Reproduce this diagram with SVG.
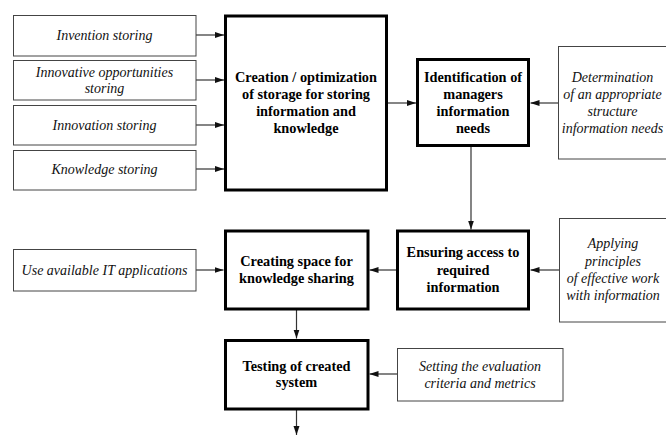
<svg xmlns="http://www.w3.org/2000/svg" width="666" height="435" viewBox="0 0 666 435">
<defs>
<marker id="ah" markerUnits="userSpaceOnUse" markerWidth="9" markerHeight="7" refX="9" refY="3" orient="auto">
<path d="M0,0 L9,3 L0,6 z" fill="#111"/>
</marker>
<style>
.thin{fill:#fff;stroke:#444;stroke-width:1}
.thick{fill:#fff;stroke:#000;stroke-width:3}
.it{font-family:"Liberation Serif","Times New Roman",serif;font-style:italic;font-size:14px;fill:#111;text-anchor:middle}
.bd{font-family:"Liberation Serif","Times New Roman",serif;font-weight:bold;font-size:14.3px;fill:#000;text-anchor:middle}
.con{stroke:#333;stroke-width:1.2;fill:none;marker-end:url(#ah)}
</style>
</defs>
<rect width="666" height="435" fill="#fff"/>
<g id="connectors">
<line class="con" x1="196" y1="35" x2="224" y2="35"/>
<line class="con" x1="196" y1="80" x2="224" y2="80"/>
<line class="con" x1="196" y1="125" x2="224" y2="125"/>
<line class="con" x1="196" y1="169" x2="224" y2="169"/>
<line class="con" x1="387" y1="103" x2="416" y2="103"/>
<line class="con" x1="558" y1="103" x2="530.5" y2="103"/>
<line class="con" x1="471" y1="146" x2="471" y2="229.5"/>
<line class="con" x1="559" y1="270" x2="530.5" y2="270"/>
<line class="con" x1="397" y1="270" x2="369.5" y2="270"/>
<line class="con" x1="196" y1="270" x2="223.5" y2="270"/>
<line class="con" x1="296.5" y1="309" x2="296.5" y2="338.5"/>
<line class="con" x1="397" y1="374" x2="369.5" y2="374"/>
<line class="con" x1="296.5" y1="409" x2="296.5" y2="435"/>
</g>
<g id="invention">
<rect class="thin" x="13.5" y="15.5" width="182.5" height="40.5"/>
<text class="it" x="104.5" y="40">Invention storing</text>
</g>
<g id="opportunities">
<rect class="thin" x="13.5" y="60.5" width="182.5" height="39.5"/>
<text class="it" x="104.5" y="77">Innovative opportunities</text>
<text class="it" x="104.5" y="93">storing</text>
</g>
<g id="innovation">
<rect class="thin" x="13.5" y="105.5" width="182.5" height="39.5"/>
<text class="it" x="104.5" y="130">Innovation storing</text>
</g>
<g id="knowledge">
<rect class="thin" x="13.5" y="150.5" width="182.5" height="39.5"/>
<text class="it" x="104.5" y="174">Knowledge storing</text>
</g>
<g id="creation">
<rect class="thick" x="225.5" y="16" width="161" height="174"/>
<text class="bd" x="306" y="82">Creation / optimization</text>
<text class="bd" x="306" y="99">of storage for storing</text>
<text class="bd" x="306" y="116">information and</text>
<text class="bd" x="306" y="133">knowledge</text>
</g>
<g id="identification">
<rect class="thick" x="417.5" y="59.5" width="111" height="86"/>
<text class="bd" x="473" y="82">Identification of</text>
<text class="bd" x="473" y="99">managers</text>
<text class="bd" x="473" y="116">information</text>
<text class="bd" x="473" y="133">needs</text>
</g>
<g id="determination">
<rect class="thin" x="558.5" y="46.5" width="120" height="112.5"/>
<text class="it" x="612.5" y="82">Determination</text>
<text class="it" x="612.5" y="99">of an appropriate</text>
<text class="it" x="612.5" y="116">structure</text>
<text class="it" x="612.5" y="133">information needs</text>
</g>
<g id="ensuring">
<rect class="thick" x="397.5" y="231" width="131" height="78"/>
<text class="bd" x="463" y="257">Ensuring access to</text>
<text class="bd" x="463" y="275">required</text>
<text class="bd" x="463" y="292">information</text>
</g>
<g id="applying">
<rect class="thin" x="559.5" y="218.5" width="120" height="103.5"/>
<text class="it" x="613" y="248">Applying</text>
<text class="it" x="613" y="266">principles</text>
<text class="it" x="613" y="283">of effective work</text>
<text class="it" x="613" y="300">with information</text>
</g>
<g id="space">
<rect class="thick" x="225.5" y="231" width="142.5" height="78"/>
<text class="bd" x="296.5" y="266">Creating space for</text>
<text class="bd" x="296.5" y="283">knowledge sharing</text>
</g>
<g id="useit">
<rect class="thin" x="13.5" y="249.5" width="182.5" height="41.5"/>
<text class="it" x="104.5" y="275">Use available IT applications</text>
</g>
<g id="testing">
<rect class="thick" x="225.5" y="340.5" width="142.5" height="68.5"/>
<text class="bd" x="296.5" y="371">Testing of created</text>
<text class="bd" x="296.5" y="387">system</text>
</g>
<g id="setting">
<rect class="thin" x="397.5" y="348.5" width="165.5" height="52.5"/>
<text class="it" x="480" y="371">Setting the evaluation</text>
<text class="it" x="480" y="388">criteria and metrics</text>
</g>
</svg>
